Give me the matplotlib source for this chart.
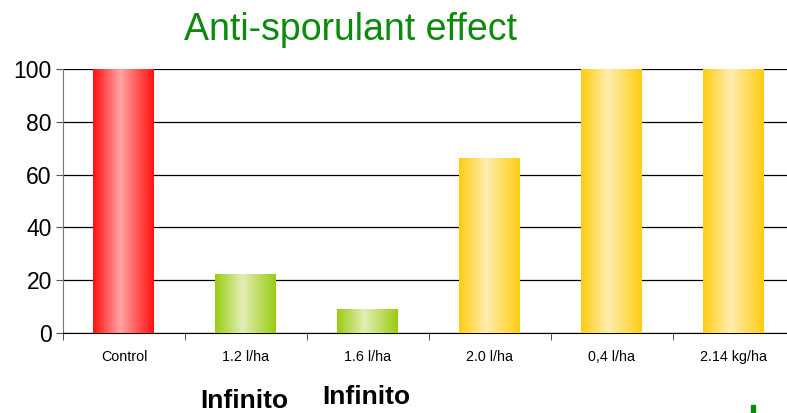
import numpy as np
from matplotlib import pyplot as plt
from matplotlib.colors import LinearSegmentedColormap

plt.rcParams['font.family'] = ['Liberation Sans', 'DejaVu Sans']

categories = ["Control", "1.2 l/ha", "1.6 l/ha", "2.0 l/ha", "0,4 l/ha", "2.14 kg/ha"]
values = [100, 22, 9, 66, 100, 100]
# edge colour, light centre colour
bar_colors = [("#ff1010", "#ffa3a3"),
              ("#99cc11", "#e2eeb4"),
              ("#99cc11", "#e2eeb4"),
              ("#ffcc11", "#ffedb0"),
              ("#ffcc11", "#ffedb0"),
              ("#ffcc11", "#ffedb0")]
group_labels = ["Infinito", "Infinito"]

fig = plt.figure(figsize=(7.87, 4.13), dpi=100)
ax = fig.add_axes([0.080, 0.1937, 0.930, 0.6392])

x = np.arange(len(categories))
width = 0.5
grad = np.linspace(0, 1, 256).reshape(1, -1)
for i, v in enumerate(values):
    edge, light = bar_colors[i]
    cmap = LinearSegmentedColormap.from_list("g", [(0, edge), (0.45, light), (1, edge)])
    ax.imshow(grad, extent=(x[i] - width / 2, x[i] + width / 2, 0, v),
              aspect="auto", cmap=cmap, zorder=3, interpolation="bilinear")

ax.set_xlim(-0.5, len(categories) - 0.5)
ax.set_ylim(0, 100)
ax.set_yticks([0, 20, 40, 60, 80, 100])
ax.yaxis.grid(True, color="black", linewidth=0.9)
ax.set_axisbelow(True)
for s in ["top", "right"]:
    ax.spines[s].set_visible(False)
ax.spines["left"].set_color("#777777")
ax.spines["bottom"].set_color("black")
ax.tick_params(axis="y", labelsize=16.5, length=5, color="#555555", pad=3)

ax.set_xticks(x)
ax.set_xticklabels(categories, fontsize=10.3)
ax.tick_params(axis="x", length=0, pad=20)
for lbl in ax.get_xticklabels():
    lbl.set_va("baseline")
ax.set_xticks(np.arange(len(categories) + 1) - 0.5, minor=True)
ax.tick_params(axis="x", which="minor", length=5, color="#333333")

fig.text(0.445, 0.928, "Anti-sporulant effect", color="#0b8a0b", fontsize=27,
         ha="center", va="center")
fig.text(0.31, 0.028, group_labels[0], fontsize=19, weight="bold", ha="center", va="center")
fig.text(0.466, 0.038, group_labels[1], fontsize=19, weight="bold", ha="center", va="center")

fig.patches.append(plt.Rectangle((0.954, 0.0), 0.005, 0.02, color="#0b8a0b",
                                 transform=fig.transFigure, figure=fig))

fig.savefig("out.png", dpi=100)
